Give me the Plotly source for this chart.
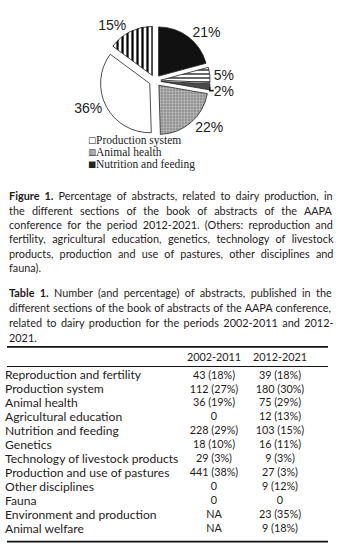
import os
import struct
import plotly.graph_objects as go

W, H = 344, 547

# ---- pie data (clockwise from 12 o'clock) ----
pie_labels = ["Nutrition and feeding", "Environment and production", "Animal welfare",
              "Others", "Production system", "Animal health"]
pie_values = [21, 5, 2, 22, 36, 15]

legend_labels = ["Production system", "Animal health", "Nutrition and feeding"]

fig_caption = [
    "<b>Figure 1.</b> Percentage of abstracts, related to dairy production, in",
    "the different sections of the book of abstracts of the AAPA",
    "conference for the period 2012-2021. (Others: reproduction and",
    "fertility, agricultural education, genetics, technology of livestock",
    "products, production and use of pastures, other disciplines and",
    "fauna).",
]
tab_caption = [
    "<b>Table 1.</b> Number (and percentage) of abstracts, published in the",
    "different sections of the book of abstracts of the AAPA conference,",
    "related to dairy production for the periods 2002-2011 and 2012-",
    "2021.",
]

# ---- table data ----
periods = ["2002-2011", "2012-2021"]
sections = ["Reproduction and fertility", "Production system", "Animal health",
            "Agricultural education", "Nutrition and feeding", "Genetics",
            "Technology of livestock products", "Production and use of pastures",
            "Other disciplines", "Fauna", "Environment and production", "Animal welfare"]
col_2002 = ["43 (18%)", "112 (27%)", "36 (19%)", "0", "228 (29%)", "18 (10%)",
            "29 (3%)", "441 (38%)", "0", "0", "NA", "NA"]
col_2012 = ["39 (18%)", "180 (30%)", "75 (29%)", "12 (13%)", "103 (15%)", "16 (11%)",
            "9 (3%)", "27 (3%)", "9 (12%)", "0", "23 (35%)", "9 (18%)"]

# ---- styles ----
pie_colors = ["#111111", "#ffffff", "#4a4a4a", "#9a9a9a", "#ffffff", "#ffffff"]
pie_patterns = ["", "-", "", "+", "", "|"]
pie_pat_fg = ["#000000", "#000000", "#000000", "#cfcfcf", "#000000", "#000000"]
pie_pat_bg = ["#111111", "#ffffff", "#4a4a4a", "#959595", "#ffffff", "#ffffff"]
pie_pat_size = [6, 4, 6, 3, 6, 5]
pie_pat_solid = [0.3, 0.3, 0.3, 0.25, 0.3, 0.45]
legend_symbols = ["\u25A1", "\u25A5", "\u25A0"]

TXT = "#1f1b1c"
SANS = "Lato"


# ---- tiny font-metrics reader (for justified caption lines) ----
def find_font(names):
    roots = ["/usr/share/fonts", "/usr/local/share/fonts",
             os.path.expanduser("~/.fonts"), os.path.expanduser("~/.local/share/fonts")]
    for r in roots:
        for dp, dn, fn in os.walk(r):
            for f in fn:
                if f in names:
                    return os.path.join(dp, f)
    return None


class Metrics:
    def __init__(self, path):
        d = open(path, "rb").read()
        off = struct.unpack(">I", d[12:16])[0] if d[:4] == b"ttcf" else 0
        nt = struct.unpack(">H", d[off + 4:off + 6])[0]
        t = {}
        for i in range(nt):
            rec = d[off + 12 + 16 * i: off + 28 + 16 * i]
            t[rec[:4].decode("latin1")] = struct.unpack(">I", rec[8:12])[0]
        self.upm = struct.unpack(">H", d[t["head"] + 18:t["head"] + 20])[0]
        nhm = struct.unpack(">H", d[t["hhea"] + 34:t["hhea"] + 36])[0]
        hm = t["hmtx"]
        self.adv = [struct.unpack(">H", d[hm + 4 * i:hm + 4 * i + 2])[0] for i in range(nhm)]
        cm = t["cmap"]
        n = struct.unpack(">H", d[cm + 2:cm + 4])[0]
        sub = None
        for i in range(n):
            pid, eid, so = struct.unpack(">HHI", d[cm + 4 + 8 * i:cm + 12 + 8 * i])
            fmt = struct.unpack(">H", d[cm + so:cm + so + 2])[0]
            if fmt == 4 and (pid == 0 or (pid == 3 and eid == 1)):
                sub = cm + so
                break
        sx2 = struct.unpack(">H", d[sub + 6:sub + 8])[0]
        s = sx2 // 2
        self.ends = struct.unpack(">%dH" % s, d[sub + 14:sub + 14 + sx2])
        self.starts = struct.unpack(">%dH" % s, d[sub + 16 + sx2:sub + 16 + 2 * sx2])
        self.deltas = struct.unpack(">%dh" % s, d[sub + 16 + 2 * sx2:sub + 16 + 3 * sx2])
        self.ro_off = sub + 16 + 3 * sx2
        self.ros = struct.unpack(">%dH" % s, d[self.ro_off:self.ro_off + sx2])
        self.d = d

    def gid(self, ch):
        c = ord(ch)
        for i, e in enumerate(self.ends):
            if c <= e:
                if c < self.starts[i]:
                    return 0
                if self.ros[i] == 0:
                    return (c + self.deltas[i]) & 0xFFFF
                a = self.ro_off + 2 * i + self.ros[i] + 2 * (c - self.starts[i])
                g = struct.unpack(">H", self.d[a:a + 2])[0]
                return (g + self.deltas[i]) & 0xFFFF if g else 0
        return 0

    def width(self, s, size):
        tot = 0
        for ch in s:
            g = self.gid(ch)
            tot += self.adv[g] if g < len(self.adv) else self.adv[-1]
        return tot * size / self.upm


try:
    M_REG = Metrics(find_font({"Lato-Regular.ttf"}))
    M_BOLD = Metrics(find_font({"Lato-Bold.ttf"}))
except Exception:
    M_REG = M_BOLD = None


def line_width(line, size):
    w = 0
    for p in line.split("<b>"):
        if "</b>" in p:
            b, r = p.split("</b>")
            w += M_BOLD.width(b, size) + M_REG.width(r, size)
        else:
            w += M_REG.width(p, size)
    return w


# caption sizing + justification
CAP_FS = 11.2
LEFT, RIGHT = 7, 333
if M_REG is not None:
    widest = max(line_width(l, 1.0) for l in fig_caption + tab_caption)
    CAP_FS = min(CAP_FS, (RIGHT - LEFT - 4) / widest)


def justified(line, last):
    if last or M_REG is None:
        return line
    nat = line_width(line, CAP_FS)
    nsp = line.replace("<b>", "").replace("</b>", "").count(" ")
    ws = (RIGHT - LEFT - nat) / max(nsp, 1)
    return '<span style="word-spacing:%.2fpx">%s</span>' % (ws, line)


# table sizing
TAB_FS = 13.4
NUM_FS = 11.6
if M_REG is not None:
    TAB_FS = min(14.0, max(11.0, 176 / M_REG.width("Technology of livestock products", 1.0)))
    NUM_FS = min(TAB_FS, max(10.8, 53 / M_REG.width(periods[0], 1.0)))

fig = go.Figure()

# pie
cx, cy, half = 155, 73, 56
fig.add_trace(go.Pie(
    labels=pie_labels, values=pie_values, sort=False, direction="clockwise",
    rotation=0, pull=0.12,
    marker=dict(colors=pie_colors, line=dict(color="#222222", width=0.8),
                pattern=dict(shape=pie_patterns, fgcolor=pie_pat_fg, bgcolor=pie_pat_bg,
                             size=pie_pat_size, solidity=pie_pat_solid)),
    texttemplate="%{value}%", textposition="outside",
    textfont=dict(family="Liberation Sans", size=14, color="#222222"),
    domain=dict(x=[(cx - half) / W, (cx + half) / W],
                y=[1 - (cy + half) / H, 1 - (cy - half) / H]),
    showlegend=False, hoverinfo="skip",
))

# table
n = len(sections)
rows_idx = list(range(n))
row0, step = 373, 14.2
tfont = dict(family=SANS, size=TAB_FS, color=TXT)
nfont = dict(family=SANS, size=NUM_FS, color=TXT)
fig.add_trace(go.Scatter(x=[5] * n, y=rows_idx, text=sections, mode="text",
                         textposition="middle right",
                         textfont=tfont, hoverinfo="skip", showlegend=False))
for xc, col in ((214, col_2002), (280, col_2012)):
    fig.add_trace(go.Scatter(x=[xc] * n, y=rows_idx, text=col, mode="text",
                             textposition="middle center",
                             textfont=nfont, hoverinfo="skip", showlegend=False))
hdr_y = (355 - row0) / step
fig.add_trace(go.Scatter(x=[214, 280], y=[hdr_y, hdr_y], text=periods, mode="text",
                         textposition="middle center",
                         textfont=nfont, hoverinfo="skip", showlegend=False))


def py(px):
    return (px - row0) / step


shapes = [
    dict(type="line", xref="x", yref="y", x0=7, x1=328, y0=py(343.5), y1=py(343.5),
         line=dict(color="#111", width=1.6)),
    dict(type="line", xref="x", yref="y", x0=7, x1=328, y0=py(363.5), y1=py(363.5),
         line=dict(color="#111", width=1)),
    dict(type="line", xref="x", yref="y", x0=7, x1=328, y0=py(541.5), y1=py(541.5),
         line=dict(color="#111", width=1.6)),
]

annotations = []
# legend
for i, (sym, lab) in enumerate(zip(legend_symbols, legend_labels)):
    ypx = 133.5 + i * 12.3
    annotations.append(dict(xref="paper", yref="paper", x=86 / W, y=1 - ypx / H,
                            xanchor="left", yanchor="middle", showarrow=False,
                            text=sym, font=dict(family="DejaVu Sans", size=8.5, color="#222")))
    annotations.append(dict(xref="paper", yref="paper", x=94 / W, y=1 - ypx / H,
                            xanchor="left", yanchor="middle", showarrow=False,
                            text=lab, font=dict(family="Liberation Serif", size=11.5, color="#222")))
# captions
for i, line in enumerate(fig_caption):
    ypx = 190 + i * 14.6
    annotations.append(dict(xref="paper", yref="paper", x=LEFT / W, y=1 - ypx / H,
                            xanchor="left", yanchor="middle", showarrow=False, align="left",
                            text=justified(line, i == len(fig_caption) - 1),
                            font=dict(family=SANS, size=CAP_FS, color=TXT)))
for i, line in enumerate(tab_caption):
    ypx = 288 + i * 15.2
    annotations.append(dict(xref="paper", yref="paper", x=LEFT / W, y=1 - ypx / H,
                            xanchor="left", yanchor="middle", showarrow=False, align="left",
                            text=justified(line, i == len(tab_caption) - 1),
                            font=dict(family=SANS, size=CAP_FS, color=TXT)))

fig.update_layout(
    width=W, height=H, margin=dict(l=0, r=0, t=0, b=0),
    paper_bgcolor="white", plot_bgcolor="white",
    xaxis=dict(range=[0, W], domain=[0, 1], visible=False, fixedrange=True),
    yaxis=dict(range=[py(H), py(0)], domain=[0, 1], visible=False, fixedrange=True),
    shapes=shapes, annotations=annotations,
)

fig.write_html("out.html")
